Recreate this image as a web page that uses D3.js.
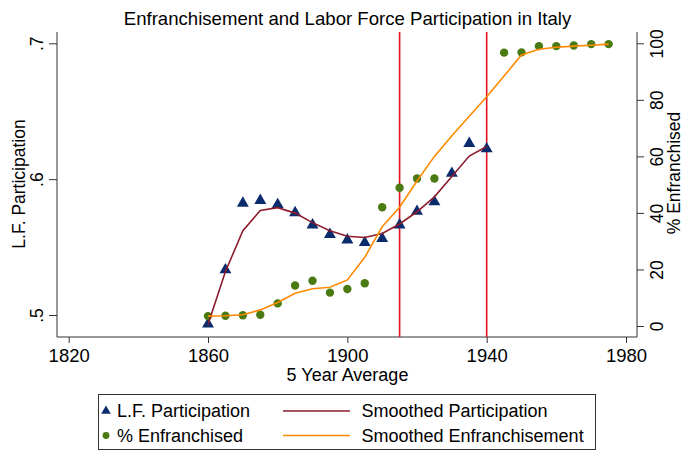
<!DOCTYPE html>
<html>
<head>
<meta charset="utf-8">
<script src="https://cdn.jsdelivr.net/npm/d3@7"></script>
<style>
  body { margin: 0; background: #fff; }
  svg { display: block; }
  text { font-family: "Liberation Sans", Arial, sans-serif; fill: #000; }
</style>
</head>
<body>
<svg id="chart" width="685" height="451"></svg>
<script>
// ---- data ----
const lfYears = [1860,1865,1870,1875,1880,1885,1890,1895,1900,1905,1910,1915,1920,1925,1930,1935,1940];
const lfParticipation = [0.494,0.534,0.583,0.585,0.582,0.576,0.567,0.560,0.556,0.554,0.557,0.567,0.577,0.584,0.605,0.627,0.623];
const smoothedParticipation = [0.493,0.532,0.562,0.577,0.579,0.575,0.568,0.562,0.558,0.557,0.560,0.567,0.576,0.587,0.602,0.617,0.624];

const enfYears = [1860,1865,1870,1875,1880,1885,1890,1895,1900,1905,1910,1915,1920,1925,1945,1950,1955,1960,1965,1970,1975];
const enfranchised = [3.5,3.6,3.8,4.0,8.0,14.3,16.0,11.8,13.1,15.1,42.0,48.9,52.2,52.2,96.7,96.8,99.0,99.0,99.2,99.7,99.7];

const smoothYears = [1860,1865,1870,1875,1880,1885,1890,1895,1900,1905,1910,1915,1920,1925,1930,1935,1940,1945,1950,1955,1960,1965,1970,1975];
const smoothedEnfranchisement = [3.5,3.6,4.0,5.7,8.3,11.6,13.2,13.7,16.3,24.3,35.1,42.0,51.3,60.0,67.3,74.2,81.1,88.4,95.9,97.9,98.6,99.0,99.3,99.7];

const eventYears = [1915, 1940];
const xTicks = [1820,1860,1900,1940,1980];
const yLeftTicks = [0.5,0.6,0.7];
const yLeftLabels = [".5",".6",".7"];
const yRightTicks = [0,20,40,60,80,100];

const titleText = "Enfranchisement and Labor Force Participation in Italy";
const xTitle = "5 Year Average";
const yLeftTitle = "L.F. Participation";
const yRightTitle = "% Enfranchised";
const legendLabels = ["L.F. Participation","% Enfranchised","Smoothed Participation","Smoothed Enfranchisement"];

// ---- styles ----
const C = { tri: "#0b2c6c", dot: "#4a7a12", sp: "#8d1c2c", se: "#ff8a00", ev: "#e3101e", axis: "#333" };

const svg = d3.select("#chart");
const plotTop = 32, plotBottom = 337, plotLeft = 57, plotRight = 637;

const x = d3.scaleLinear().domain([1820,1980]).range([68.7,626]);
const yL = d3.scaleLinear().domain([0.5,0.7]).range([315,43.3]);
const yR = d3.scaleLinear().domain([0,100]).range([326,43.3]);

// title
svg.append("text").attr("x", 347.5).attr("y", 25).attr("text-anchor","middle")
  .style("font-size","18.6px").text(titleText);

// axes
const gx = svg.append("g").attr("transform", `translate(0,${plotBottom})`)
  .call(d3.axisBottom(x).tickValues(xTicks).tickFormat(d3.format("d")).tickSize(6).tickPadding(6));
gx.select(".domain").remove();
gx.append("line").attr("x1", plotLeft).attr("x2", plotRight).attr("stroke", C.axis);
gx.selectAll(".tick line").attr("stroke", C.axis);
gx.selectAll(".tick text").style("font-size","18.5px").style("font-family","Liberation Sans, Arial, sans-serif").attr("fill","#000");

const gl = svg.append("g").attr("transform", `translate(${plotLeft},0)`)
  .call(d3.axisLeft(yL).tickValues(yLeftTicks).tickFormat((d,i)=>yLeftLabels[i]).tickSize(8).tickPadding(0));
gl.select(".domain").remove();
gl.append("line").attr("y1", plotTop).attr("y2", plotBottom).attr("stroke", C.axis);
gl.selectAll(".tick line").attr("stroke", C.axis);
gl.selectAll(".tick text").attr("x", -14).attr("y", 0).attr("dy", 0)
  .attr("transform","rotate(-90)").attr("text-anchor","middle")
  .style("font-size","17.5px").style("font-family","Liberation Sans, Arial, sans-serif").attr("fill","#000");
gl.selectAll(".tick text").each(function(){
  d3.select(this).attr("x", 0).attr("y", -14);
});

const gr = svg.append("g").attr("transform", `translate(${plotRight},0)`)
  .call(d3.axisRight(yR).tickValues(yRightTicks).tickFormat(d3.format("d")).tickSize(7).tickPadding(0));
gr.select(".domain").remove();
gr.append("line").attr("y1", plotTop).attr("y2", plotBottom).attr("stroke", C.axis);
gr.selectAll(".tick line").attr("stroke", C.axis);
gr.selectAll(".tick text").attr("x", 0).attr("y", 26).attr("dy", 0)
  .attr("transform","rotate(-90)").attr("text-anchor","middle")
  .style("font-size","17.5px").style("font-family","Liberation Sans, Arial, sans-serif").attr("fill","#000");

// axis titles
svg.append("text").attr("x", 347.5).attr("y", 381).attr("text-anchor","middle")
  .style("font-size","18px").text(xTitle);
svg.append("text").attr("transform","translate(25,184) rotate(-90)").attr("text-anchor","middle")
  .style("font-size","17.5px").text(yLeftTitle);
svg.append("text").attr("transform","translate(680,173) rotate(-90)").attr("text-anchor","middle")
  .style("font-size","17.5px").text(yRightTitle);

// event lines
svg.selectAll("line.ev").data(eventYears).enter().append("line").attr("class","ev")
  .attr("x1", d=>x(d)).attr("x2", d=>x(d)).attr("y1", plotTop).attr("y2", plotBottom)
  .attr("stroke", C.ev).attr("stroke-width", 1.6);

// markers
const triSym = d3.symbol().type(d3.symbolTriangle).size(62);
svg.append("g").selectAll("path").data(lfYears).enter().append("path")
  .attr("d", triSym).attr("fill", C.tri)
  .attr("transform", (d,i)=>`translate(${x(d)},${yL(lfParticipation[i])+1})`);

svg.append("g").selectAll("circle").data(enfYears).enter().append("circle")
  .attr("cx", d=>x(d)).attr("cy", (d,i)=>yR(enfranchised[i])).attr("r", 4.2).attr("fill", C.dot);

// smoothed lines
const lineP = d3.line().x(d=>x(d[0])).y(d=>yL(d[1]));
svg.append("path").datum(lfYears.map((d,i)=>[d, smoothedParticipation[i]]))
  .attr("d", lineP).attr("fill","none").attr("stroke", C.sp).attr("stroke-width", 1.6);
const lineE = d3.line().x(d=>x(d[0])).y(d=>yR(d[1]));
svg.append("path").datum(smoothYears.map((d,i)=>[d, smoothedEnfranchisement[i]]))
  .attr("d", lineE).attr("fill","none").attr("stroke", C.se).attr("stroke-width", 1.6);

// legend
const lg = svg.append("g");
lg.append("rect").attr("x", 98.5).attr("y", 394.5).attr("width", 497).attr("height", 55)
  .attr("fill","#fff").attr("stroke","#333").attr("stroke-width",1);
lg.append("path").attr("d", d3.symbol().type(d3.symbolTriangle).size(40))
  .attr("transform","translate(106,411)").attr("fill", C.tri);
lg.append("circle").attr("cx",106).attr("cy",435.5).attr("r",3.4).attr("fill", C.dot);
lg.append("text").attr("x",117).attr("y",417).style("font-size","18px").text(legendLabels[0]);
lg.append("text").attr("x",117).attr("y",441.5).style("font-size","18px").text(legendLabels[1]);
lg.append("line").attr("x1",283).attr("x2",350).attr("y1",411).attr("y2",411).attr("stroke",C.sp).attr("stroke-width",1.6);
lg.append("line").attr("x1",283).attr("x2",350).attr("y1",435.5).attr("y2",435.5).attr("stroke",C.se).attr("stroke-width",1.6);
lg.append("text").attr("x",361.5).attr("y",417).style("font-size","18px").text(legendLabels[2]);
lg.append("text").attr("x",361.5).attr("y",441.5).style("font-size","18px").text(legendLabels[3]);
</script>
</body>
</html>
